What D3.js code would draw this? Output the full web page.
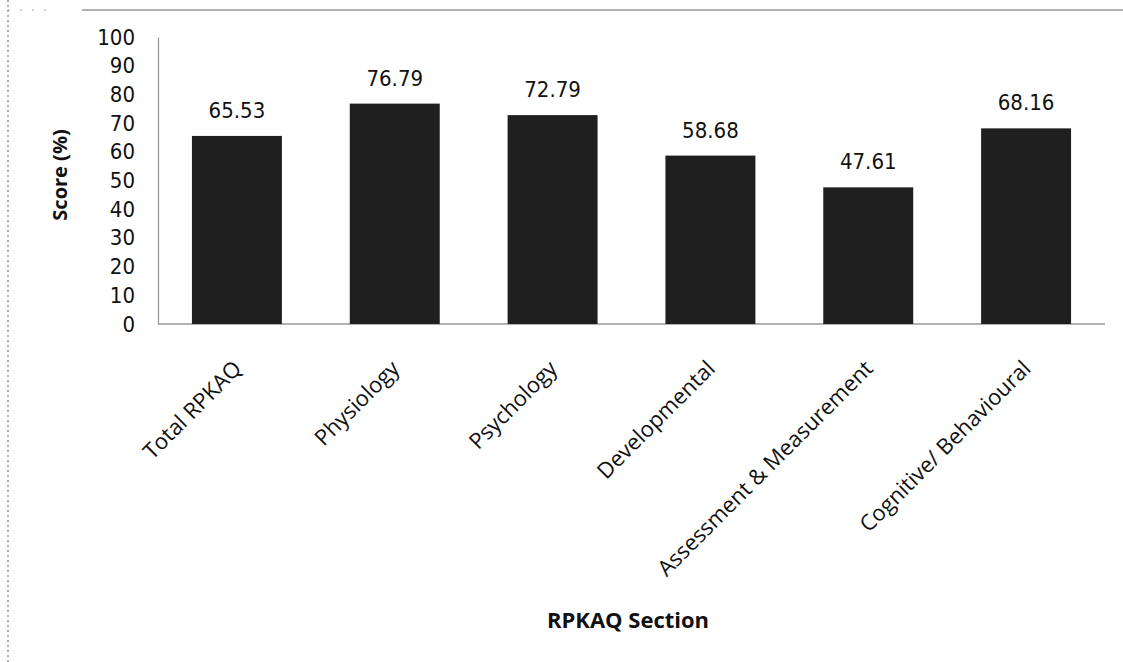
<!DOCTYPE html>
<html>
<head>
<meta charset="utf-8">
<script src="https://cdn.jsdelivr.net/npm/d3@7"></script>
<style>
  html, body { margin: 0; padding: 0; background: #fff; }
  svg { display: block; font-family: "Open Sans", Lato, sans-serif; }
</style>
</head>
<body>
<svg id="chart" width="1123" height="662"></svg>
<script>
// RPKAQ section scores
const categories = ["Total RPKAQ", "Physiology", "Psychology", "Developmental", "Assessment & Measurement", "Cognitive/ Behavioural"];
const scores = [65.53, 76.79, 72.79, 58.68, 47.61, 68.16];
const yTicks = [0, 10, 20, 30, 40, 50, 60, 70, 80, 90, 100];

const numFont = "'DejaVu Sans Condensed', 'DejaVu Sans', sans-serif";

const svg = d3.select("#chart");
const margin = { left: 158, right: 18, top: 37, bottom: 338 };
const W = 1123, H = 662;

const x = d3.scaleBand().domain(categories).range([margin.left, W - margin.right]).paddingInner(0.43).paddingOuter(0.215);
const y = d3.scaleLinear().domain([0, 100]).range([H - margin.bottom, margin.top]);

// outer frame pieces
svg.append("line").attr("x1", 82).attr("x2", W).attr("y1", 10).attr("y2", 10)
  .attr("stroke", "#999").attr("stroke-width", 1.5);
svg.append("line").attr("x1", 8).attr("x2", 8).attr("y1", 0).attr("y2", H)
  .attr("stroke", "#777").attr("stroke-width", 1.2).attr("stroke-dasharray", "2,3");
svg.append("line").attr("x1", 8).attr("x2", 52).attr("y1", 10).attr("y2", 10)
  .attr("stroke", "#aaa").attr("stroke-width", 1.2).attr("stroke-dasharray", "2,10");

// y axis
const yAxis = svg.append("g").attr("transform", `translate(${margin.left},0)`)
  .call(d3.axisLeft(y).tickValues(yTicks).tickSize(0).tickPadding(23));
yAxis.select(".domain").attr("stroke", "#999").attr("stroke-width", 1.3);
yAxis.selectAll("text").attr("font-size", 22).attr("font-family", numFont).attr("fill", "#111");

// x axis
const xAxis = svg.append("g").attr("transform", `translate(0,${y(0)})`)
  .call(d3.axisBottom(x).tickSize(0).tickFormat(""));
xAxis.select(".domain").attr("stroke", "#999").attr("stroke-width", 1.3)
  .attr("d", `M${margin.left},0H${W - margin.right}`);

// bars
svg.append("g").selectAll("rect").data(scores).join("rect")
  .attr("x", (d, i) => x(categories[i]))
  .attr("width", x.bandwidth())
  .attr("y", d => y(d))
  .attr("height", d => y(0) - y(d))
  .attr("fill", "#1f1f1f");

// value labels
svg.append("g").selectAll("text").data(scores).join("text")
  .attr("x", (d, i) => x(categories[i]) + x.bandwidth() / 2)
  .attr("y", d => y(d) - 18)
  .attr("text-anchor", "middle")
  .attr("font-size", 22)
  .attr("font-family", numFont)
  .attr("fill", "#111")
  .text(d => d.toFixed(2));

// rotated category labels
svg.append("g").selectAll("text").data(categories).join("text")
  .attr("transform", d => `translate(${x(d) + x.bandwidth() / 2 + 6},${y(0) + 46}) rotate(-45)`)
  .attr("text-anchor", "end")
  .attr("font-size", 22)
  .attr("fill", "#111")
  .text(d => d);

// axis titles
svg.append("text")
  .attr("transform", `translate(67,175) rotate(-90)`)
  .attr("text-anchor", "middle")
  .attr("font-size", 20).attr("font-weight", "bold").attr("fill", "#111")
  .text("Score (%)");
svg.append("text")
  .attr("x", 628).attr("y", 628)
  .attr("text-anchor", "middle")
  .attr("font-size", 22).attr("font-weight", "bold").attr("fill", "#111")
  .text("RPKAQ Section");
</script>
</body>
</html>
